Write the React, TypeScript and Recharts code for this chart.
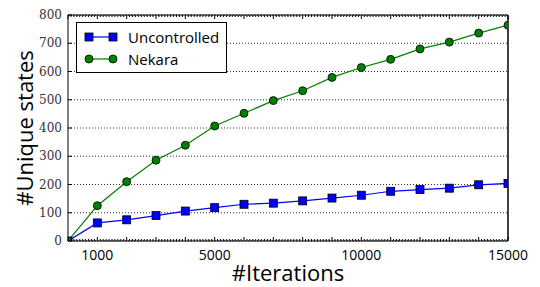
import React from 'react';
import {
  LineChart, Line, XAxis, YAxis, CartesianGrid, Legend, Label
} from 'recharts';

const iterations = [0, 1000, 2000, 3000, 4000, 5000, 6000, 7000, 8000, 9000, 10000, 11000, 12000, 13000, 14000, 15000];
const uncontrolled = [0, 64, 75, 90, 106, 118, 130, 134, 142, 152, 162, 176, 182, 187, 199, 204];
const nekara = [0, 125, 210, 286, 339, 407, 452, 497, 532, 579, 614, 643, 680, 704, 736, 764];

const xLabelTicks = [1000, 5000, 10000, 15000];
const yTicks = [0, 100, 200, 300, 400, 500, 600, 700, 800];

// tick marks every 100 iterations, the ones on each 1000 are longer
const xTicks = Array.from({ length: 151 }, (_, i) => i * 100);

const data = iterations.map((it, i) => ({
  it,
  Uncontrolled: uncontrolled[i],
  Nekara: nekara[i],
}));

const SANS = '"Open Sans", sans-serif';
const SERIF = '"DejaVu Serif", serif';

const SquareDot = (props: any) => {
  const { cx, cy, index } = props;
  if (cx == null || cy == null) return null;
  return (
    <rect key={`sq-${index}`} x={cx - 4} y={cy - 4} width={8} height={8}
      fill="#0000ff" stroke="#000" strokeWidth={0.8} />
  );
};

// ticks point into the plot; dir = +1 for bottom axis, -1 for top axis
const xTick = (dir: number, withLabel: boolean) => (props: any) => {
  const { x, y, payload } = props;
  const v = payload.value;
  const major = v % 1000 === 0;
  const len = major ? 4 : 2;
  return (
    <g>
      <line x1={x} x2={x} y1={y} y2={y - dir * len} stroke="#000" strokeWidth={1} />
      {withLabel && xLabelTicks.includes(v) && (
        <text x={x} y={y + 19} textAnchor="middle" fontFamily={SANS} fontSize={14} fill="#000">{v}</text>
      )}
    </g>
  );
};

const yTick = (dir: number, withLabel: boolean) => (props: any) => {
  const { x, y, payload } = props;
  return (
    <g>
      <line x1={x} x2={x + dir * 4} y1={y} y2={y} stroke="#000" strokeWidth={1} />
      {withLabel && (
        <text x={x - 6} y={y + 4} textAnchor="end" fontFamily={SERIF} fontSize={12} fill="#333">{payload.value}</text>
      )}
    </g>
  );
};

const LegendBox = () => (
  <div style={{
    border: '1px solid #000', background: '#fff', width: 151, height: 51,
    fontFamily: SANS, fontSize: 15, color: '#000', boxSizing: 'border-box',
    paddingTop: 3,
  }}>
    <div style={{ display: 'flex', alignItems: 'center', height: 22 }}>
      <svg width={42} height={12} style={{ marginLeft: 4 }}>
        <line x1={8} y1={6} x2={32} y2={6} stroke="#0000ff" strokeWidth={1.2} />
        <rect x={4} y={2} width={8} height={8} fill="#0000ff" stroke="#000" strokeWidth={0.8} />
        <rect x={28} y={2} width={8} height={8} fill="#0000ff" stroke="#000" strokeWidth={0.8} />
      </svg>
      <span style={{ marginLeft: 5 }}>Uncontrolled</span>
    </div>
    <div style={{ display: 'flex', alignItems: 'center', height: 22 }}>
      <svg width={42} height={12} style={{ marginLeft: 4 }}>
        <line x1={8} y1={6} x2={32} y2={6} stroke="#008000" strokeWidth={1.2} />
        <circle cx={8} cy={6} r={4} fill="#008000" stroke="#000" strokeWidth={0.8} />
        <circle cx={32} cy={6} r={4} fill="#008000" stroke="#000" strokeWidth={0.8} />
      </svg>
      <span style={{ marginLeft: 5 }}>Nekara</span>
    </div>
  </div>
);

const YTitle = (props: any) => {
  const { viewBox } = props;
  const cx = 24;
  const cy = viewBox.y + viewBox.height / 2;
  return (
    <text x={cx} y={cy} transform={`rotate(-90, ${cx}, ${cy})`} textAnchor="middle"
      dominantBaseline="central" fontFamily={SANS} fontSize={22} fill="#000">#Unique states</text>
  );
};

const XTitle = (props: any) => {
  const { viewBox } = props;
  const cx = viewBox.x + viewBox.width / 2;
  return (
    <text x={cx} y={272} textAnchor="middle" dominantBaseline="central"
      fontFamily={SANS} fontSize={22} fill="#000">#Iterations</text>
  );
};

export default function App() {
  return (
    <div style={{ position: 'absolute', left: 0, top: 0, width: 540, height: 287, background: '#fff' }}>
      <LineChart width={540} height={287} data={data}
        margin={{ top: 10, right: 27, bottom: 16, left: 28 }}>
        <CartesianGrid yAxisId="y" xAxisId="x" vertical={false}
          stroke="#333" strokeDasharray="1 2" />
        <XAxis xAxisId="x" dataKey="it" type="number" domain={[0, 15000]} allowDataOverflow
          ticks={xTicks} interval={0} height={30} tickSize={0} tickMargin={0}
          tickLine={false} tick={xTick(1, true)} axisLine={{ stroke: '#000' }}>
          <Label content={XTitle} />
        </XAxis>
        <XAxis xAxisId="xtop" orientation="top" dataKey="it" type="number" domain={[0, 15000]}
          ticks={xTicks} interval={0} height={5} tickSize={0} tickMargin={0}
          tickLine={false} tick={xTick(-1, false)} axisLine={{ stroke: '#000' }} />
        <YAxis yAxisId="y" type="number" domain={[0, 800]} allowDataOverflow ticks={yTicks} interval={0}
          width={40} tickSize={0} tickMargin={0} tickLine={false} tick={yTick(1, true)}
          axisLine={{ stroke: '#000' }}>
          <Label content={YTitle} />
        </YAxis>
        <YAxis yAxisId="yr" orientation="right" type="number" domain={[0, 800]} ticks={yTicks}
          interval={0} width={5} tickSize={0} tickMargin={0} tickLine={false} tick={yTick(-1, false)}
          axisLine={{ stroke: '#000', strokeWidth: 1.5 }} />
        <Legend layout="vertical" align="center" verticalAlign="middle"
          wrapperStyle={{ left: 76, top: 22, width: 151, height: 51 }}
          content={() => <LegendBox />} />
        <Line xAxisId="x" yAxisId="y" dataKey="Uncontrolled" type="linear"
          stroke="#0000ff" strokeWidth={1.2} dot={SquareDot} isAnimationActive={false} />
        <Line xAxisId="x" yAxisId="y" dataKey="Nekara" type="linear"
          stroke="#008000" strokeWidth={1.2}
          dot={{ r: 4, fill: '#008000', stroke: '#000', strokeWidth: 0.8 }}
          isAnimationActive={false} />
      </LineChart>
    </div>
  );
}
